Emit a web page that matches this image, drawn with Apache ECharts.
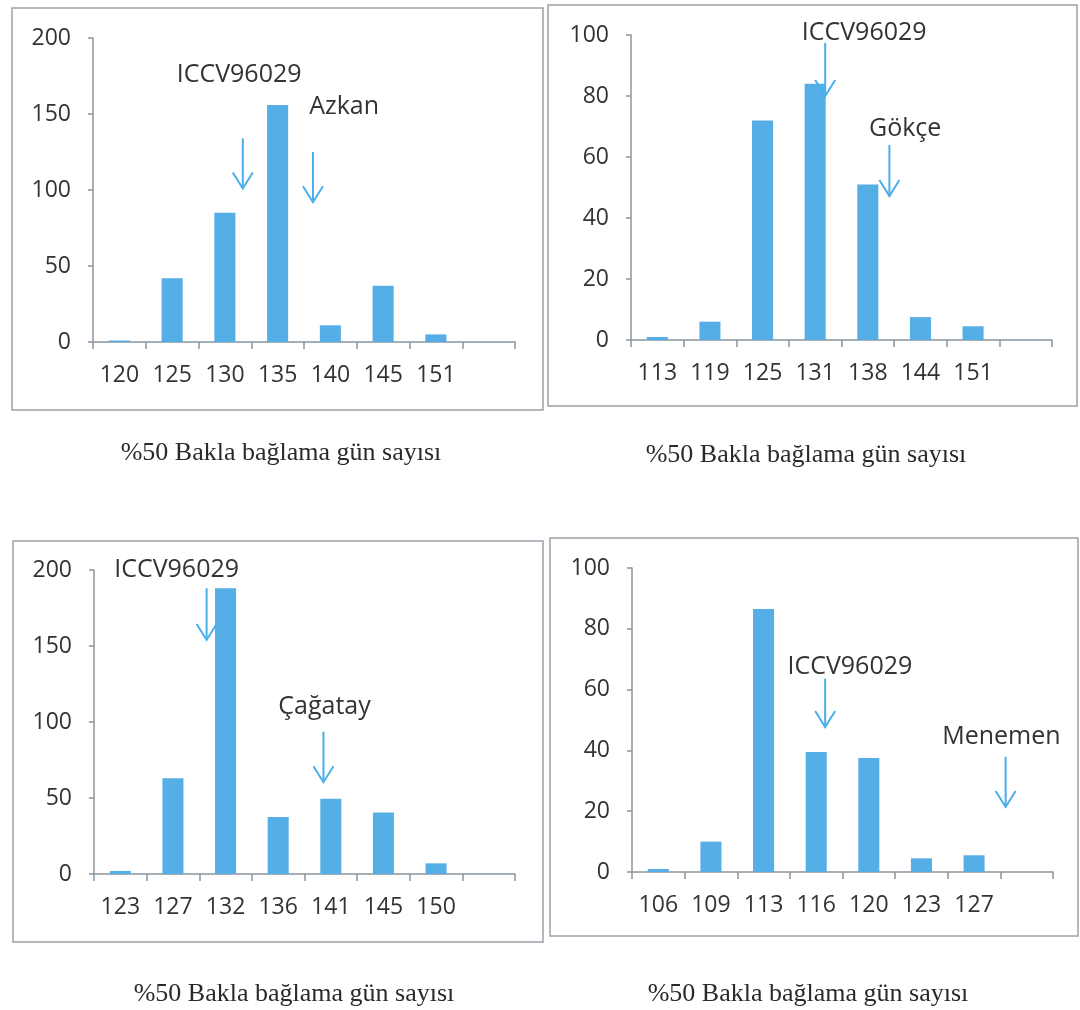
<!DOCTYPE html>
<html>
<head>
<meta charset="utf-8">
<title>%50 Bakla bağlama gün sayısı</title>
<script src="https://cdn.jsdelivr.net/npm/echarts@6/dist/echarts.min.js"></script>
<style>
  html, body { margin: 0; padding: 0; background: #ffffff; }
  #chart { width: 1080px; height: 1010px; }
</style>
</head>
<body>
<div id="chart"></div>
<script>
// Day classes (x categories) and plant counts for each population
const daysAzkan   = ['120', '125', '130', '135', '140', '145', '151', ''];
const countsAzkan = [1, 42, 85, 156, 11, 37, 5, 0];

const daysGokce   = ['113', '119', '125', '131', '138', '144', '151', ''];
const countsGokce = [1, 6, 72, 84, 51, 7.5, 4.5, 0];

const daysCagatay   = ['123', '127', '132', '136', '141', '145', '150', ''];
const countsCagatay = [2, 63, 188, 37.5, 49.5, 40.5, 7, 0];

const daysMenemen   = ['106', '109', '113', '116', '120', '123', '127', ''];
const countsMenemen = [1, 10, 86.5, 39.5, 37.5, 4.5, 5.5, 0];

// Y axis ranges
const yMax      = [200, 100, 200, 100];
const yInterval = [50, 20, 50, 20];

// Parent markers: [label, category position (fractional index), label value, arrow top value, arrow tip value, arrow category position]
const notesAzkan = [
  ['ICCV96029', 2.27, 176, 134, 101, 2.34],
  ['Azkan',     4.26, 155, 125,  92, 3.67]
];
const notesGokce = [
  ['ICCV96029', 3.93, 100.7, 97.4, 80, 3.19],
  ['Gökçe',     4.71, 69.2,  63.9, 47.2, 4.41]
];
const notesCagatay = [
  ['ICCV96029', 1.07, 200, 188, 154, 1.64],
  ['Çağatay',   3.88, 110, 93.6, 60.4, 3.86]
];
const notesMenemen = [
  ['ICCV96029', 3.64, 67.5, 63.6, 47.7, 3.17],
  ['Menemen',   6.52, 44.4, 37.9, 21.4, 6.60]
];

const captionText = '%50 Bakla bağlama gün sayısı';

const panels = [
  { days: daysAzkan,   counts: countsAzkan,   notes: notesAzkan,
    grid: { left: 93, top: 38, width: 422, height: 304 },
    box: [12, 8, 531, 402], caption: [281, 453] },
  { days: daysGokce,   counts: countsGokce,   notes: notesGokce,
    grid: { left: 631, top: 35, width: 421, height: 305 },
    box: [548, 5, 529, 401], caption: [806, 455] },
  { days: daysCagatay, counts: countsCagatay, notes: notesCagatay,
    grid: { left: 94, top: 570, width: 421, height: 304 },
    box: [13, 541, 530, 401], caption: [294, 994] },
  { days: daysMenemen, counts: countsMenemen, notes: notesMenemen,
    grid: { left: 632, top: 568, width: 421, height: 304 },
    box: [550, 538, 528, 398], caption: [808, 994] }
];

const BAR = '#56aee6';
const ARROW = '#4aaeea';
const AXIS = '#8b959e';
const TEXT = '#333333';
const SANS = '"Open Sans", Lato, sans-serif';
const SERIF = '"Liberation Serif", "DejaVu Serif", serif';

const grids = [], xAxes = [], yAxes = [], series = [];
panels.forEach((p, i) => {
  grids.push(Object.assign({ containLabel: false }, p.grid));
  xAxes.push({
    type: 'category', gridIndex: i, data: p.days,
    axisLine: { lineStyle: { color: AXIS, width: 1.5 } },
    axisTick: { show: true, length: 7, lineStyle: { color: AXIS, width: 1.5 } },
    axisLabel: { interval: 0, color: TEXT, fontFamily: SANS, fontSize: 23, margin: 22 },
    splitLine: { show: false }
  });
  yAxes.push({
    type: 'value', gridIndex: i, min: 0, max: yMax[i], interval: yInterval[i],
    axisLine: { show: true, lineStyle: { color: AXIS, width: 1.5 } },
    axisTick: { show: true, length: 5, lineStyle: { color: AXIS, width: 1.5 } },
    axisLabel: { color: TEXT, fontFamily: SANS, fontSize: 23, margin: 22 },
    splitLine: { show: false }
  });
  series.push({
    type: 'bar', xAxisIndex: i, yAxisIndex: i, data: p.counts,
    barWidth: '40%', itemStyle: { color: BAR }, silent: true, animation: false
  });
});

const chart = echarts.init(document.getElementById('chart'), null, { renderer: 'canvas' });
chart.setOption({
  backgroundColor: '#ffffff',
  animation: false,
  grid: grids, xAxis: xAxes, yAxis: yAxes, series: series
});

// Panel frames, captions and the parent arrows, placed through each panel's axes
const graphics = [];
panels.forEach((p, i) => {
  const [bx, by, bw, bh] = p.box;
  graphics.push({
    type: 'rect', shape: { x: bx, y: by, width: bw, height: bh },
    style: { fill: 'none', stroke: '#9aa3ab', lineWidth: 1.5 }, z: 0, silent: true
  });
  graphics.push({
    type: 'text', x: p.caption[0], y: p.caption[1],
    style: { text: captionText, fill: '#2a2a2a', font: '26px ' + SERIF,
             textAlign: 'center', textVerticalAlign: 'middle' }, silent: true
  });

  const c0 = chart.convertToPixel({ xAxisIndex: i }, 0);
  const c1 = chart.convertToPixel({ xAxisIndex: i }, 1);
  const px = (pos) => c0 + pos * (c1 - c0);
  const py = (v) => chart.convertToPixel({ yAxisIndex: i }, v);

  p.notes.forEach(([label, lx, lv, topV, tipV, ax]) => {
    graphics.push({
      type: 'text', x: px(lx), y: py(lv),
      style: { text: label, fill: TEXT, font: '25px ' + SANS,
               textAlign: 'center', textVerticalAlign: 'middle' }, z: 10, silent: true
    });
    const x = px(ax), yTop = py(topV), yTip = py(tipV);
    graphics.push({
      type: 'polyline', shape: { points: [[x, yTop], [x, yTip]] },
      style: { stroke: ARROW, lineWidth: 2, fill: null }, z: 10, silent: true
    });
    graphics.push({
      type: 'polyline', shape: { points: [[x - 10, yTip - 16], [x, yTip], [x + 10, yTip - 16]] },
      style: { stroke: ARROW, lineWidth: 2, fill: null }, z: 10, silent: true
    });
  });
});
chart.setOption({ graphic: graphics });
</script>
</body>
</html>
